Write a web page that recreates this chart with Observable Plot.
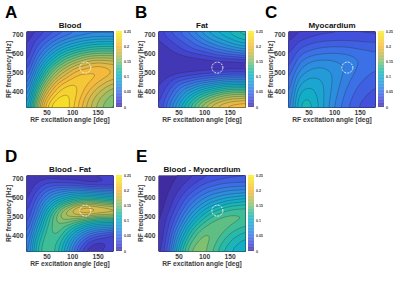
<!DOCTYPE html>
<html>
<head>
<meta charset="utf-8">
<script src="https://cdn.jsdelivr.net/npm/d3@7"></script>
<script src="https://cdn.jsdelivr.net/npm/@observablehq/plot@0.6"></script>
<style>
html,body{margin:0;padding:0;background:#fff;width:400px;height:300px;overflow:hidden}
#root{position:relative;width:400px;height:300px;font-family:"Liberation Sans",Arial,sans-serif}
#root svg{position:absolute;overflow:visible;background:transparent;opacity:.99}
.letter{position:absolute;font-weight:700;font-size:17px;line-height:17px;color:#000}
</style>
</head>
<body>
<div id="root"></div>
<script>
const angles = [10,30,50,70,90,110,130,150,180];
const freqs = [720,680,640,600,560,520,480,440,400,360,320];
const freqsBand = [720,680,640,600,570,540,510,480,440,400,360,320];
const ticksAngle = [50,100,150];
const ticksFreq = [400,500,600,700];
const ticksBar = [0,0.05,0.1,0.15,0.2,0.25];
const parula = ["#3e2a9f","#4247d8","#3a6fe6","#2694dc","#10aec8","#2cbca0","#7fc070","#c8bb50","#f5ba3a","#f5d82a","#f8f01a"];

const blood = [
[.012,.02,.03,.04,.05,.055,.06,.06,.06],
[.015,.03,.045,.06,.07,.08,.085,.09,.09],
[.018,.04,.06,.08,.095,.105,.115,.12,.12],
[.02,.05,.08,.105,.125,.14,.15,.155,.155],
[.025,.065,.10,.13,.155,.17,.185,.19,.185],
[.03,.08,.125,.16,.18,.2,.205,.21,.2],
[.04,.095,.145,.18,.2,.215,.215,.21,.195],
[.05,.115,.17,.205,.22,.22,.21,.195,.175],
[.06,.135,.19,.22,.23,.22,.2,.18,.16],
[.07,.15,.21,.235,.235,.215,.19,.17,.15],
[.08,.165,.225,.245,.235,.21,.185,.165,.145]];

const fat = [
[.022,.04,.05,.065,.08,.095,.105,.115,.13],
[.018,.03,.04,.05,.065,.08,.09,.10,.115],
[.014,.02,.03,.04,.05,.06,.07,.08,.09],
[.012,.015,.02,.025,.03,.035,.045,.05,.06],
[.01,.01,.012,.014,.016,.018,.02,.022,.025],
[.01,.01,.01,.01,.01,.01,.009,.008,.008],
[.012,.012,.014,.016,.018,.02,.022,.024,.024],
[.013,.02,.03,.035,.04,.045,.05,.055,.055],
[.016,.03,.05,.06,.075,.085,.095,.10,.10],
[.02,.04,.065,.09,.11,.125,.14,.15,.15],
[.022,.05,.08,.11,.14,.16,.175,.185,.19],
[.025,.06,.095,.13,.16,.185,.2,.21,.215]];

const myocardium = [
[.012,.018,.022,.025,.026,.027,.027,.027,.026],
[.017,.027,.032,.036,.037,.038,.038,.037,.036],
[.022,.037,.044,.048,.05,.05,.049,.047,.045],
[.027,.047,.056,.06,.062,.062,.06,.056,.052],
[.032,.058,.07,.074,.073,.07,.066,.06,.053],
[.037,.068,.08,.083,.08,.074,.065,.057,.05],
[.042,.08,.09,.09,.083,.072,.062,.053,.046],
[.046,.09,.098,.094,.083,.07,.058,.049,.041],
[.05,.1,.107,.097,.082,.067,.054,.045,.037],
[.053,.108,.113,.098,.08,.064,.051,.041,.033],
[.056,.112,.116,.099,.078,.061,.048,.038,.03]];

const bloodFat = [
[.01,.015,.012,.01,.012,.015,.02,.025,.03],
[.01,.02,.03,.03,.025,.02,.012,.01,.012],
[.012,.03,.05,.065,.07,.075,.07,.065,.06],
[.015,.04,.07,.09,.105,.115,.12,.115,.105],
[.018,.048,.085,.115,.14,.16,.17,.165,.155],
[.022,.055,.10,.14,.175,.205,.215,.205,.195],
[.026,.063,.115,.155,.18,.185,.18,.17,.17],
[.03,.075,.125,.155,.155,.14,.125,.115,.115],
[.035,.09,.135,.15,.13,.105,.085,.075,.07],
[.045,.105,.14,.14,.11,.075,.05,.035,.015],
[.05,.115,.145,.13,.095,.055,.025,.012,.02],
[.055,.12,.145,.125,.085,.04,.012,.02,.03]];

const bloodMyo = [
[.003,.005,.01,.015,.022,.028,.032,.034,.035],
[.003,.007,.015,.024,.034,.042,.047,.05,.052],
[.003,.009,.02,.034,.047,.058,.065,.07,.073],
[.004,.012,.028,.046,.063,.077,.086,.093,.1],
[.004,.015,.035,.06,.08,.098,.11,.12,.125],
[.005,.02,.045,.075,.1,.12,.133,.14,.14],
[.005,.025,.055,.09,.118,.137,.145,.145,.138],
[.006,.03,.068,.11,.137,.148,.147,.137,.125],
[.007,.035,.085,.125,.15,.152,.14,.125,.112],
[.008,.04,.097,.14,.155,.15,.132,.117,.103],
[.01,.047,.11,.15,.158,.145,.125,.11,.097]];

const titles = ["Blood","Fat","Myocardium","Blood - Fat","Blood - Myocardium"];
const letters = ["A","B","C","D","E"];
const markerAngle = [125,125,125,125,125];
const markerFreq = [530,530,530,535,535];

const root = document.getElementById("root");
const colorScale = {type:"linear",domain:[0,0.25],range:parula,interpolate:"rgb",clamp:true};
const textColor = "#3a3a3a";

function panel(i, rows, ys, left, top, letterDx){
  const pts = ys.flatMap((y,r)=>angles.map((x,c)=>({x,y,v:rows[r][c]})));
  const mL=26, mT=31, plotW=87, plotH=76;
  const chart = Plot.plot({
    width:mL+plotW+4, height:mT+plotH+20,
    marginLeft:mL, marginRight:4, marginTop:mT, marginBottom:20,
    style:{background:"transparent",fontFamily:"Liberation Sans, Arial, sans-serif",fontWeight:700,fontSize:"6.7px",color:textColor},
    x:{domain:[10,180],label:null},
    y:{domain:[320,720],label:null},
    color:colorScale,
    marks:[
      Plot.contour(pts,{x:"x",y:"y",value:"v",fill:"value",stroke:"#222",strokeWidth:0.4,strokeOpacity:0.7,
        interpolate:"barycentric",thresholds:d3.range(0,0.26,0.01),blur:3,pixelSize:1}),
      Plot.axisX({ticks:ticksAngle,tickSize:0,tickPadding:3,label:"RF excitation angle [deg]",labelAnchor:"center",labelArrow:"none",labelOffset:14,fontSize:6.7}),
      Plot.axisY({ticks:ticksFreq,tickSize:0,tickPadding:3,label:"RF frequency [Hz]",labelAnchor:"center",labelArrow:"none",labelOffset:20,fontSize:6.7}),
      Plot.dot([{x:markerAngle[i],y:markerFreq[i]}],{x:"x",y:"y",r:5.5,stroke:"#fff",strokeWidth:0.9,strokeDasharray:"2,1.2",fill:"none"}),
      Plot.text([titles[i]],{frameAnchor:"top",dy:-4,fontSize:8,fontWeight:700,fill:"#111",lineAnchor:"bottom"})
    ]
  });
  chart.style.left=left+"px"; chart.style.top=top+"px";
  root.appendChild(chart);

  const bar = Plot.plot({
    width:24, height:mT+plotH+20,
    marginLeft:3, marginRight:15, marginTop:mT, marginBottom:20,
    style:{background:"transparent",fontFamily:"Liberation Sans, Arial, sans-serif",fontWeight:700,color:textColor},
    x:{axis:null,domain:[0,1]},
    y:{domain:[0,0.25],axis:null},
    color:colorScale,
    marks:[
      Plot.rect(d3.range(0,0.25,0.0025),{x1:0,x2:1,y1:d=>d,y2:d=>d+0.0026,fill:d=>d+0.00125,inset:0}),
      Plot.axisY({anchor:"right",ticks:ticksBar,tickSize:0,tickPadding:1.5,tickFormat:d=>String(d),label:null,fontSize:3.6})
    ]
  });
  bar.style.left=(left+mL+plotW)+"px"; bar.style.top=top+"px";
  root.appendChild(bar);

  const l=document.createElement("div");
  l.className="letter"; l.textContent=letters[i];
  l.style.left=(left+letterDx)+"px"; l.style.top=(top+4)+"px";
  root.appendChild(l);
}
panel(0,blood,freqs,0,0,5);
panel(1,fat,freqsBand,132,0,3);
panel(2,myocardium,freqs,262,0,3);
panel(3,bloodFat,freqsBand,0,144,5);
panel(4,bloodMyo,freqs,132,144,4);
</script>
</body>
</html>
